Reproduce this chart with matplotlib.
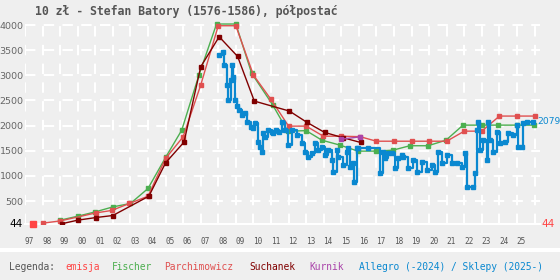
import matplotlib
matplotlib.use('Agg')
import matplotlib.pyplot as plt
from matplotlib.patches import Rectangle

# data
emisja_t = [1997.45]
emisja_v = [44]

fischer_t = [1999.0, 2000.0, 2001.0, 2002.0, 2003.0, 2004.0, 2005.0, 2005.92, 2006.9, 2007.9,
             2009.0, 2009.9, 2011.1, 2011.95, 2013.0, 2013.9, 2014.93, 2015.95, 2016.96, 2017.94,
             2018.9, 2019.94, 2020.96, 2021.93, 2023.0, 2023.9, 2025.0, 2025.97]
fischer_v = [120, 199, 285, 384, 452, 750, 1367, 1910, 3005, 4020,
             4020, 3040, 2410, 1890, 1900, 1710, 1612, 1493, 1493, 1512,
             1600, 1600, 1710, 2010, 2010, 2010, 2010, 2010]

parch_t = [1998.0, 1999.0, 2001.04, 2001.93, 2002.94, 2004.0, 2005.0, 2006.0, 2007.0, 2008.0,
           2009.0, 2010.0, 2011.0, 2012.0, 2013.0, 2013.98, 2015.0, 2016.07, 2017.0, 2018.0,
           2019.0, 2020.0, 2021.0, 2022.0, 2023.0, 2024.0, 2025.0, 2026.0]
parch_v = [60, 105, 265, 313, 452, 597, 1347, 1777, 2806, 3986,
           3986, 3005, 2521, 1990, 1990, 1790, 1790, 1780, 1690, 1690,
           1690, 1690, 1690, 1890, 1890, 2190, 2190, 2190]

such_t = [1999.1, 2000.0, 2001.05, 2002.0, 2004.05, 2005.0, 2006.05, 2007.0, 2008.05, 2009.1,
          2010.05, 2012.05, 2013.05, 2014.05, 2015.1, 2016.1]
such_v = [50, 120, 173, 213, 597, 1260, 1672, 3170, 3767, 3376,
          2488, 2289, 2064, 1865, 1760, 1665]

kurnik_t = [2015.0, 2016.07]
kurnik_v = [1730, 1777]

allegro_t = [2008.05, 2008.25, 2008.33, 2008.48, 2008.55, 2008.71, 2008.78, 2008.84, 2008.95, 2009.07,
             2009.18, 2009.33, 2009.52, 2009.65, 2009.85, 2009.98, 2010.09, 2010.24, 2010.37, 2010.47,
             2010.56, 2010.66, 2010.85, 2011.04, 2011.13, 2011.3, 2011.45, 2011.61, 2011.80, 2011.99,
             2012.18, 2012.46, 2012.75, 2012.94, 2013.12, 2013.32, 2013.50, 2013.69, 2013.89, 2014.08,
             2014.26, 2014.46, 2014.55, 2014.74, 2014.83, 2015.12, 2015.31, 2015.40, 2015.50, 2015.68,
             2015.74, 2015.88, 2015.95, 2016.5, 2017.20, 2017.39, 2017.49, 2017.68, 2017.87, 2018.06,
             2018.25, 2018.44, 2018.53, 2018.82, 2019.10, 2019.29, 2019.58, 2019.86, 2020.15, 2020.34,
             2020.52, 2020.72, 2021.00, 2021.29, 2021.57, 2021.85, 2022.04, 2022.14, 2022.52, 2022.61,
             2022.71, 2022.80, 2022.90, 2023.08, 2023.28, 2023.37, 2023.47, 2023.65, 2023.85, 2024.03,
             2024.32, 2024.51, 2024.79, 2024.99, 2025.08, 2025.27, 2025.36, 2025.55, 2025.93]
allegro_v = [3403, 3469, 3204, 2806, 2508, 2905, 3204, 2965, 2508, 2388,
             2309, 2209, 2249, 2076, 1976, 1950, 2044, 1678, 1578, 1479,
             1845, 1777, 1911, 1877, 1845, 1911, 1877, 2076, 1911, 1612,
             1911, 1811, 1646, 1479, 1379, 1447, 1646, 1513, 1578, 1413,
             1513, 1314, 1081, 1513, 1379, 1214, 1479, 1546, 1180, 1248,
             882, 1546, 1550, 1550, 1049, 1479, 1347, 1447, 1447, 1148,
             1347, 1413, 1379, 1148, 1314, 1081, 1280, 1115, 1214, 1081,
             1479, 1248, 1413, 1248, 1248, 1180, 1447, 782, 782, 1049,
             1911, 2076, 1513, 1711, 1314, 2076, 1711, 1479, 1877, 1646,
             1678, 1845, 1811, 2010, 1578, 1578, 2044, 2076, 2079]

years = list(range(1997, 2027))
year_labels = ['%02d' % (y % 100) for y in years[:-1]]
yticks = [500, 1000, 1500, 2000, 2500, 3000, 3500, 4000]

c_emisja = '#ff4444'
c_fischer = '#4caf50'
c_parch = '#e05050'
c_such = '#800000'
c_kurnik = '#aa44aa'
c_allegro = '#0a88d0'
bg = '#efefef'
txt = '#555555'

fig = plt.figure(figsize=(5.6, 2.8), dpi=100, facecolor=bg)
ax = fig.add_axes([25/560, 1-224/280, 515/560, 204/280])
ax.set_facecolor(bg)

ax.set_xlim(1997.0, 2026.31)
ax.set_ylim(44, 4100)

ax.set_xticks(years)
ax.set_xticklabels([])
ax.set_xticks([y + 0.25 for y in years[:-1]], minor=True)
ax.set_xticklabels(year_labels, minor=True, fontsize=5.6, color=txt, family='DejaVu Sans Mono')
ax.set_yticks(yticks)
ax.set_yticklabels([str(v) for v in yticks], fontsize=6.8, color='#666666')
ax.tick_params(which='both', length=0)
ax.tick_params(axis='x', which='minor', pad=9)
ax.tick_params(axis='y', pad=1)
ax.grid(True, which='major', color='white', lw=1.5, ls=(0, (5, 4)))
ax.set_axisbelow(True)
for s in ['top', 'right', 'left']:
    ax.spines[s].set_visible(False)
ax.spines['bottom'].set_color('white')
ax.spines['bottom'].set_linewidth(1.5)

ax.plot(fischer_t, fischer_v, color=c_fischer, lw=1, marker='s', ms=3, zorder=3)
ax.plot(parch_t, parch_v, color=c_parch, lw=1, marker='s', ms=3, zorder=3)
ax.plot(such_t, such_v, color=c_such, lw=1, marker='s', ms=3, zorder=4)
ax.plot(kurnik_t, kurnik_v, color=c_kurnik, lw=1, marker='s', ms=3, zorder=4)
ax.plot(allegro_t, allegro_v, color=c_allegro, lw=1.6, marker='s', ms=2.5,
        drawstyle='steps-post', zorder=5)
ax.plot(emisja_t, emisja_v, color=c_emisja, ls='none', marker='s', ms=4.5, zorder=6, clip_on=False)

# end labels
ax.text(-0.005, 44, '44', transform=ax.get_yaxis_transform(), ha='right', va='center',
        fontsize=7.5, color='black')
ax.text(1.003, 44, '44', transform=ax.get_yaxis_transform(), ha='left', va='center',
        fontsize=7.5, color=c_emisja)
ax.text(0.995, allegro_v[-1], str(allegro_v[-1]), transform=ax.get_yaxis_transform(),
        ha='left', va='center', fontsize=6.6, color=c_allegro)

fig.text(35/560, 1-12/280, '10 zł - Stefan Batory (1576-1586), półpostać', ha='left', va='center',
         fontsize=8.3, fontweight='bold', color=txt, family='DejaVu Sans Mono')

fig.add_artist(Rectangle((0, 1-252/280), 1, 4/280, transform=fig.transFigure,
                         facecolor='white', edgecolor='none'))

legend = [('Legenda:', txt, 9), ('emisja', c_emisja, 65), ('Fischer', c_fischer, 112),
          ('Parchimowicz', c_parch, 164), ('Suchanek', c_such, 249), ('Kurnik', c_kurnik, 309),
          ('Allegro (-2024) / Sklepy (2025-)', c_allegro, 359)]
for label, col, px in legend:
    fig.text(px/560, 1-267/280, label, ha='left', va='center', fontsize=6.9,
             color=col, family='DejaVu Sans Mono')

fig.savefig('out.png', dpi=100, facecolor=bg)
